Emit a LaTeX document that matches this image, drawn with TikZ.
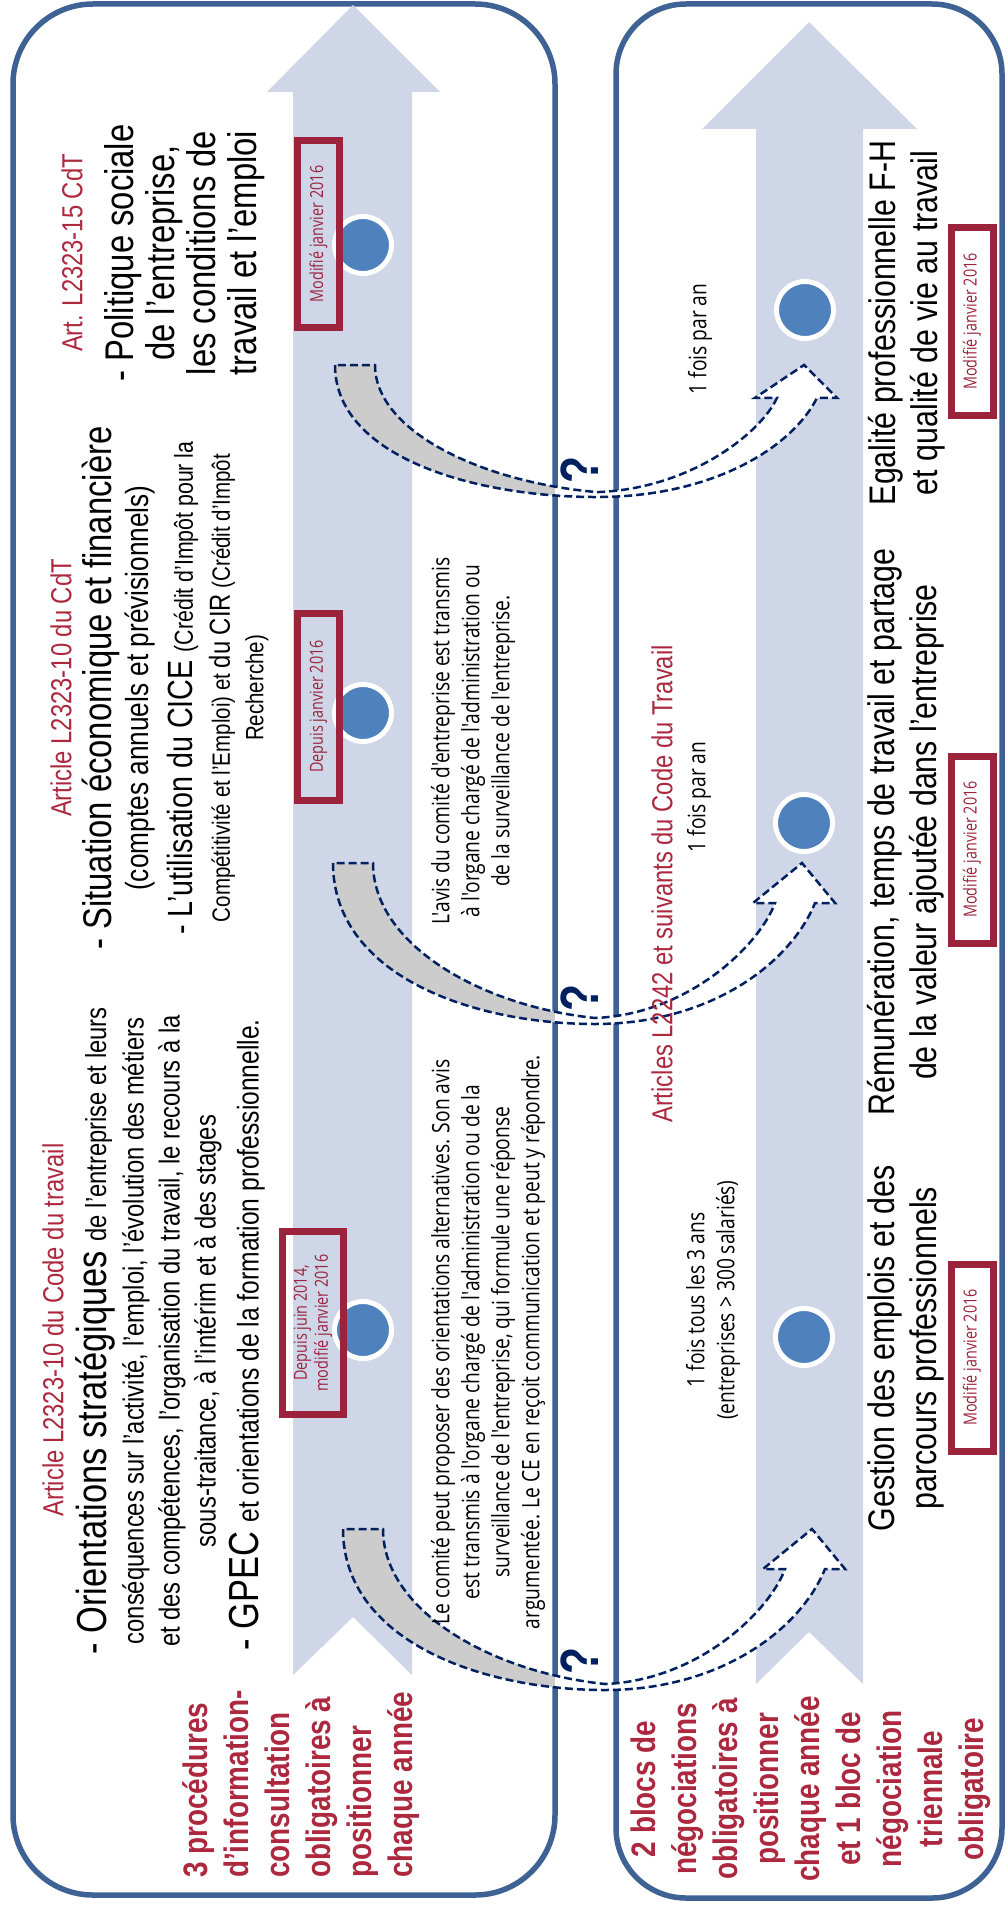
\documentclass[tikz,border=0pt]{standalone}
\usepackage{fontspec}
\setmainfont{Liberation Sans}[FakeStretch=0.82]
\newfontfamily\lightfont{Open Sans}[FakeStretch=0.8]
\definecolor{boxblue}{RGB}{62,98,148}
\definecolor{lavender}{RGB}{207,214,231}
\definecolor{dotblue}{RGB}{79,129,189}
\definecolor{textred}{RGB}{172,40,62}
\definecolor{framered}{RGB}{155,35,60}
\definecolor{navy}{RGB}{0,32,96}
\definecolor{bentgray}{RGB}{204,204,204}
\tikzset{
  boxline/.style={draw=boxblue, line width=5.5pt},
  flow/.style={fill=lavender},
  milestone/.style={circle, fill=dotblue, draw=white, line width=5pt, minimum size=57pt, inner sep=0pt},
  vtext/.style={rotate=90, inner sep=0pt, align=center},
  redhead/.style={vtext, text=textred, font=\fontsize{29}{33}\selectfont},
  bigline/.style={vtext, font=\fontsize{40}{41}\selectfont},
  normline/.style={vtext, font=\fontsize{29}{33}\selectfont},
  theme/.style={vtext, font=\fontsize{37}{42}\selectfont},
  remark/.style={vtext, font=\lightfont\fontsize{24}{30}\selectfont},
  datebox/.style={vtext, draw=framered, line width=7pt, text=framered, font=\lightfont\fontsize{18}{21}\selectfont, minimum width=187pt, minimum height=42pt},
  sidelabel/.style={vtext, text=textred, font=\bfseries\fontsize{34}{41}\selectfont},
  query/.style={vtext, text=navy, font=\bfseries\fontsize{54}{54}\selectfont},
  bentline/.style={draw=navy, line width=2.5pt, dash pattern=on 8pt off 4pt},
}
% curved block arrow, origin at the upper left corner of its tail
\newcommand{\bentpath}{(0,0) .. controls (0,111) and (137,161) .. (262,161) .. controls (377,161) and (457,101) .. (482,40) -- (502,40) -- (469,0) -- (420,40) -- (442,40) .. controls (427,81) and (357,151) .. (262,155) .. controls (147,143) and (40,81) .. (40,0) -- cycle}
\newcommand{\bentarrow}[2]{%
  \begin{scope}
    \clip (0,0) rectangle (555,1910);
    \fill[bentgray, shift={#1}, yscale=#2] \bentpath;
  \end{scope}
  \begin{scope}
    \clip (555,0) rectangle (1006,1910);
    \fill[white, shift={#1}, yscale=#2] \bentpath;
  \end{scope}
  \draw[bentline, shift={#1}, yscale=#2] \bentpath;}
\begin{document}
\begin{tikzpicture}[x=1pt, y=-1pt]
  \useasboundingbox (0,0) rectangle (1006,1910);
  % frames
  \draw[boxline, rounded corners=80pt] (13,4) rectangle (555,1895);
  \draw[boxline, rounded corners=70pt] (616,4) rectangle (1002,1898);
  % big arrows
  \fill[flow] (293,1675) -- (293,92) -- (267,92) -- (353,5) -- (440,92) -- (412,92) -- (412,1675) -- (353,1617) -- cycle;
  \fill[flow] (756,1684) -- (756,129) -- (702,129) -- (809,22) -- (917,129) -- (863,129) -- (863,1684) -- (809,1632) -- cycle;
  % milestones
  \node[milestone] (d1) at (363,245) {};
  \node[milestone] (d2) at (363,713) {};
  \node[milestone] (d3) at (363,1330) {};
  \node[milestone] (e1) at (805,310) {};
  \node[milestone] (e2) at (804,823) {};
  \node[milestone] (e3) at (804,1337) {};
  % dates
  \node[datebox] (m1) at (318.5,234) {Modifié janvier 2016};
  \node[datebox] (m2) at (318.5,706.5) {Depuis janvier 2016};
  \node[datebox, minimum width=183pt, minimum height=61pt] (m3) at (313,1323) {Depuis juin 2014,\\modifié janvier 2016};
  \node[datebox] (n1) at (972,321.5) {Modifié janvier 2016};
  \node[datebox] (n2) at (972,849.5) {Modifié janvier 2016};
  \node[datebox] (n3) at (972,1357.5) {Modifié janvier 2016};
  % links
  \bentarrow{(335,365)}{0.82}
  \bentarrow{(333,863)}{1}
  \bentarrow{(343,1529)}{1}
  \node[query] (q1) at (580,470) {?};
  \node[query] (q2) at (580,998) {?};
  \node[query] (q3) at (580,1661) {?};
  % left panel
  \node[redhead] (art1) at (72,253) {Art. L2323-15 CdT};
  \node[bigline] (polit) at (185,253) {- Politique sociale\\de l'entreprise,\\les conditions de\\travail et l'emploi};
  \node[redhead] (art2) at (61,688) {Article L2323-10 du CdT};
  \node[bigline] (sit) at (101,688) {- Situation économique et financière};
  \node[vtext, font=\fontsize{32}{36}\selectfont] (cpt) at (140,688) {(comptes annuels et prévisionnels)};
  \node[vtext, font=\fontsize{35}{38}\selectfont] (cice) at (183,688) {- L’utilisation du CICE {\fontsize{26}{30}\selectfont (Crédit d’Impôt pour la}};
  \node[vtext, font=\fontsize{25}{29}\selectfont] (cir) at (222,688) {Compétitivité et l’Emploi) et {\fontsize{29}{33}\selectfont du CIR} (Crédit d’Impôt};
  \node[vtext, font=\fontsize{25}{29}\selectfont] (rech) at (257,688) {Recherche)};
  \node[remark] (avis) at (473,741) {L'avis du comité d'entreprise est transmis\\à l'organe chargé de l'administration ou\\de la surveillance de l'entreprise.};
  \node[redhead] (art3) at (53,1330) {Article L2323-10 du Code du travail};
  \node[vtext, font=\fontsize{42}{44}\selectfont] (orient) at (95,1331) {- Orientations stratégiques {\fontsize{29}{33}\selectfont de l'entreprise et leurs}};
  \node[normline] (csq) at (136,1331) {conséquences sur l'activité, l'emploi, l'évolution des métiers};
  \node[normline] (comp) at (172,1331) {et des compétences, l'organisation du travail, le recours à la};
  \node[normline] (sous) at (208,1331) {sous-traitance, à l'intérim et à des stages};
  \node[vtext, font=\fontsize{42}{44}\selectfont] (gpec) at (247,1335) {- GPEC {\fontsize{30}{33}\selectfont et orientations de la formation professionnelle.}};
  \node[remark] (alt) at (488,1342) {Le comité peut proposer des orientations alternatives. Son avis\\est transmis à l'organe chargé de l'administration ou de la\\surveillance de l'entreprise, qui formule une réponse\\argumentée. Le CE en reçoit communication et peut y répondre.};
  \node[sidelabel, align=left, anchor=west] (proc) at (301,1878) {3 procédures\\d’information-\\consultation\\obligatoires à\\positionner\\chaque année};
  % right panel
  \node[remark] (an1) at (700,339) {1 fois par an};
  \node[theme] (egal) at (907,323) {Egalité professionnelle F-H\\et qualité de vie au travail};
  \node[redhead] (art4) at (662,884) {Articles L2242 et suivants du Code du Travail};
  \node[remark] (an2) at (699,797) {1 fois par an};
  \node[theme] (remu) at (906,832) {Rémunération, temps de travail et partage\\de la valeur ajoutée dans l'entreprise};
  \node[remark] (an3) at (713,1300) {1 fois tous les 3 ans\\(entreprises > 300 salariés)};
  \node[theme] (gest) at (906,1348) {Gestion des emplois et des\\parcours professionnels};
  \node[sidelabel] (nego) at (811,1789) {2 blocs de\\négociations\\obligatoires à\\positionner\\chaque année\\et 1 bloc de\\négociation\\triennale\\obligatoire};
\end{tikzpicture}
\end{document}
